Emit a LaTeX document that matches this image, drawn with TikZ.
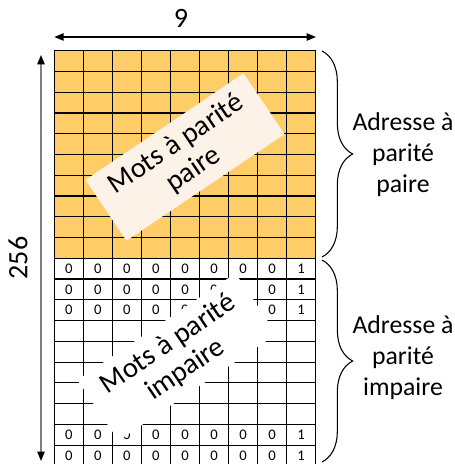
\documentclass[tikz,border=0pt]{standalone}
\usepackage{fontspec}
\setmainfont{Carlito}
\usetikzlibrary{positioning, arrows.meta, decorations.pathreplacing}
\definecolor{orangemot}{RGB}{255, 205, 104}
\definecolor{cremeetiq}{RGB}{253, 242, 232}
\definecolor{grisfleche}{RGB}{128, 128, 128}

\begin{document}
\begin{tikzpicture}[x=0.75pt, y=-0.75pt,
      trait/.style={draw=black, line width=0.9pt},
      bit/.style={font=\fontsize{11}{13}\selectfont, inner sep=0pt},
      etiq/.style={rotate=34, minimum width=143pt, minimum height=55pt,
                   align=center, inner sep=2pt,
                   font=\fontsize{21.5}{23}\selectfont},
      adresse/.style={align=center, inner sep=0pt,
                      font=\fontsize{19.3}{23.3}\selectfont},
      cote/.style={font=\fontsize{21}{24}\selectfont, inner sep=0pt},
      pointe/.style={-{Triangle[length=7pt, width=5.5pt, color=black]}},
      accolade/.style={decorate, decoration={brace, amplitude=23pt}, line width=0.8pt}]
    \useasboundingbox (0,0) rectangle (454,464);
    % mots pairs en haut
    \fill[orangemot] (54.3,50.7) rectangle (315.7,258.3);
    \foreach \i in {0,...,9}
      \draw[trait] ({54.3+29.05*\i},50.7) -- ({54.3+29.05*\i},468);
    \foreach \j in {0,...,20}
      \draw[trait] (54.3,{50.7+20.76*\j}) -- (315.7,{50.7+20.76*\j});
    % bits des adresses impaires (ceux caches par l'etiquette sont omis)
    \foreach \j/\cols in {10/{0,1,2,3,4,5,6,7,8}, 11/{0,1,2,3,4,5,7,8},
                          12/{0,1,2,3,4,7,8}, 18/{0,1,2,3,4,5,6,7,8},
                          19/{0,1,2,3,4,5,6,7,8}}
      \foreach \i in \cols
        \node[bit] (b\j-\i) at ({68.8+29.05*\i},{61.1+20.76*\j}) {\ifnum\i=8 1\else 0\fi};
    % etiquettes tournees
    \node[etiq, fill=cremeetiq] (pair) at (185,157) {Mots à parité\\paire};
    \node[etiq, fill=white] (impair) at (177,357) {Mots à parité\\impaire};
    % cotes
    \coordinate (hg) at (54.3,37);
    \coordinate (hd) at (316,37);
    \draw[line width=1pt, {Triangle[length=7pt, width=5.5pt]}-{Triangle[length=7pt, width=5.5pt]}] (hg) -- (hd);
    \node[cote] (neuf) at (181,18) {9};
    \coordinate (vh) at (41,55);
    \coordinate (vb) at (41,461);
    \coordinate (vm) at (41,258);
    \draw[grisfleche, line width=1.1pt, pointe] (vm) -- (vh);
    \draw[grisfleche, line width=1.1pt, pointe] (vm) -- (vb);
    \node[cote, rotate=90] (taille) at (18,258) {256};
    % accolades
    \coordinate (a1) at (322,51);
    \coordinate (a2) at (322,257);
    \coordinate (a3) at (322,260);
    \coordinate (a4) at (322,462);
    \draw[accolade] (a1) -- (a2);
    \draw[accolade] (a3) -- (a4);
    \node[adresse] (adpaire) at (403,155) {Adresse à\\parité\\paire};
    \node[adresse] (adimpaire) at (403,358) {Adresse à\\parité\\impaire};
  \end{tikzpicture}
\end{document}
